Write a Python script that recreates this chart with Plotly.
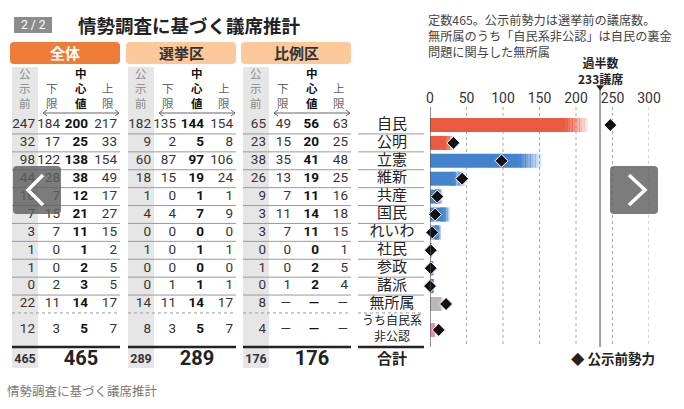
import plotly.graph_objects as go

# =========================================================
# DATA
# =========================================================

PARTIES = ["自民", "公明", "立憲", "維新", "共産", "国民", "れいわ",
           "社民", "参政", "諸派", "無所属", "うち自民系<br>非公認"]

ALL_PRE = [247, 32, 98, 44, 10, 7, 3, 1, 1, 0, 22, 12]
ALL_LOW = [184, 17, 122, 28, 7, 15, 7, 0, 0, 2, 11, 3]
ALL_MID = [200, 25, 138, 38, 12, 21, 11, 1, 2, 3, 14, 5]
ALL_HIGH = [217, 33, 154, 49, 17, 27, 15, 2, 5, 5, 17, 7]

SMD_PRE = [182, 9, 60, 18, 1, 4, 0, 1, 0, 0, 14, 8]
SMD_LOW = [135, 2, 87, 15, 0, 4, 0, 0, 0, 1, 11, 3]
SMD_MID = [144, 5, 97, 19, 1, 7, 0, 1, 0, 1, 14, 5]
SMD_HIGH = [154, 8, 106, 24, 1, 9, 0, 1, 0, 1, 17, 7]

PR_PRE = [65, 23, 38, 26, 9, 3, 3, 0, 1, 0, 8, 4]
PR_LOW = [49, 15, 35, 13, 7, 11, 7, 0, 0, 1, None, None]
PR_MID = [56, 20, 41, 19, 11, 14, 11, 0, 2, 2, None, None]
PR_HIGH = [63, 25, 48, 25, 16, 18, 15, 1, 5, 4, None, None]

SEAT_TOTALS = [465, 289, 176]
MAJORITY = 233
AXIS_TICKS = [0, 50, 100, 150, 200, 250, 300]

GROUPS = ["全体", "選挙区", "比例区"]
COLUMNS = ["公示前", "下限", "中心値", "上限"]
TOTAL_LABEL = "合計"
TITLE = "情勢調査に基づく議席推計"
PAGE = "2 / 2"
NOTE = ["定数465。公示前勢力は選挙前の議席数。",
        "無所属のうち「自民系非公認」は自民の裏金",
        "問題に関与した無所属"]
MAJORITY_LABEL = "過半数<br>233議席"
LEGEND_LABEL = "公示前勢力"
CAPTION = "情勢調査に基づく議席推計"

# =========================================================
# STYLE / GEOMETRY
# =========================================================

W, H = 684, 409
JP = "Noto Sans CJK JP"
NUM = "Roboto, sans-serif"

RED, BLUE, GREY, PINK = "#ea5a40", "#4382cd", "#b9b9b9", "#f28ca0"
PARTY_COLOR = {"自民": RED, "公明": RED, "無所属": GREY, "うち自民系<br>非公認": PINK}

ROW0, ROW_PX = 125, 17.9          # pixel centre of first row, pixels per row unit
ROW_H = [1] * 11 + [1.9, 1.46]    # last two rows are taller
GROUP_DX = [0, 116, 231]
NUM_RIGHT = [35, 60, 88, 117]
HEAD_X = [25, 52, 81, 108]
NAME_X = 392
STEPS = 14


def ry(p):
    return (p - ROW0) / ROW_PX


def px(p):
    return p / W


def py(p):
    return 1 - p / H


centers, bottoms = [], []
acc = -0.5
for h in ROW_H:
    centers.append(acc + h / 2)
    acc += h
    bottoms.append(acc)

n = len(PARTIES)
rows = centers[:n]
colors = [PARTY_COLOR.get(p, BLUE) for p in PARTIES]

fig = go.Figure()

# =========================================================
# BARS  (solid to lower bound, fading to upper bound)
# =========================================================

fig.add_trace(go.Bar(x=ALL_LOW, y=rows, base=0, orientation="h", width=0.78,
                     marker=dict(color=colors, line_width=0)))

span = [(hi - lo) / STEPS for lo, hi in zip(ALL_LOW, ALL_HIGH)]
for k in range(STEPS):
    fig.add_trace(go.Bar(
        x=span, y=rows, orientation="h", width=0.78,
        base=[lo + k * s for lo, s in zip(ALL_LOW, span)],
        marker=dict(color=colors, line_width=0, opacity=1 - (k + 0.5) / STEPS * 0.95)))

fig.add_trace(go.Scatter(
    x=ALL_PRE, y=rows, mode="markers", cliponaxis=False,
    marker=dict(symbol="diamond", size=10, color="#111", line=dict(color="white", width=1))))

fig.add_trace(go.Scatter(
    x=[MAJORITY], y=[ry(87)], mode="markers", cliponaxis=False,
    marker=dict(symbol="triangle-down", size=7, color="#222")))

# =========================================================
# TABLE
# =========================================================

groups = [(ALL_PRE, ALL_LOW, ALL_MID, ALL_HIGH),
          (SMD_PRE, SMD_LOW, SMD_MID, SMD_HIGH),
          (PR_PRE, PR_LOW, PR_MID, PR_HIGH)]

for g, cols in enumerate(groups):
    for c, vals in enumerate(cols):
        fig.add_trace(go.Scatter(
            x=[NUM_RIGHT[c] + GROUP_DX[g]] * n, y=rows, xaxis="x2", yaxis="y",
            mode="text", cliponaxis=False,
            text=["—" if v is None else str(v) for v in vals],
            textposition="middle left",
            textfont=dict(family=NUM, size=13.5,
                          color="#111" if c == 2 else "#333",
                          weight=700 if c == 2 else 400)))

fig.add_trace(go.Scatter(
    x=[NAME_X] * n, y=rows, xaxis="x2", yaxis="y", mode="text",
    text=PARTIES, textposition="middle center", cliponaxis=False,
    textfont=dict(family=JP, size=[15] * (n - 1) + [12], color="#222")))

# total row
fig.add_trace(go.Scatter(
    x=[HEAD_X[0] + dx for dx in GROUP_DX], y=[centers[-1]] * 3, xaxis="x2", yaxis="y",
    mode="text", text=[str(t) for t in SEAT_TOTALS], textposition="middle center",
    textfont=dict(family=NUM, size=12.5, color="#333", weight=700), cliponaxis=False))
fig.add_trace(go.Scatter(
    x=[HEAD_X[2] + dx for dx in GROUP_DX], y=[centers[-1]] * 3, xaxis="x2", yaxis="y",
    mode="text", text=[str(t) for t in SEAT_TOTALS], textposition="middle center",
    textfont=dict(family=NUM, size=20, color="#222", weight=700), cliponaxis=False))
fig.add_trace(go.Scatter(
    x=[NAME_X], y=[centers[-1]], xaxis="x2", yaxis="y", mode="text",
    text=[TOTAL_LABEL], textposition="middle center", cliponaxis=False,
    textfont=dict(family=JP, size=15, color="#222", weight=700)))

shapes = []
annotations = []


def label(x, y, text, size, color, anchor="center", family=JP, xref="paper", yanchor="middle"):
    annotations.append(dict(x=x, y=py(y), xref=xref, yref="paper", text=text, showarrow=False,
                            xanchor=anchor, yanchor=yanchor, align=anchor if anchor != "center" else "center",
                            borderpad=0, font=dict(family=family, size=size, color=color)))


def rounded(x0, y0, x1, y1, r):
    return (f"M {px(x0 + r)},{py(y0)} L {px(x1 - r)},{py(y0)} "
            f"Q {px(x1)},{py(y0)} {px(x1)},{py(y0 + r)} L {px(x1)},{py(y1 - r)} "
            f"Q {px(x1)},{py(y1)} {px(x1 - r)},{py(y1)} L {px(x0 + r)},{py(y1)} "
            f"Q {px(x0)},{py(y1)} {px(x0)},{py(y1 - r)} L {px(x0)},{py(y0 + r)} "
            f"Q {px(x0)},{py(y0)} {px(x0 + r)},{py(y0)} Z")


def polyline(pts):
    return "M " + " L ".join(f"{px(x)},{py(y)}" for x, y in pts)


for g, dx in enumerate(GROUP_DX):
    # grey 公示前 band
    shapes.append(dict(type="rect", xref="x2", yref="y", x0=12 + dx, x1=38 + dx,
                       y0=ry(67), y1=ry(368), fillcolor="#e6e6e6", line_width=0, layer="below"))

spans = [(12 + dx, 120 + dx) for dx in GROUP_DX] + [(358, 424)]
for i, b in enumerate(bottoms[:12]):
    if i < 10:
        style = dict(color="#9a9a9a", width=1)
    elif i == 10:
        style = dict(color="#9a9a9a", width=1, dash="dot")
    else:
        style = dict(color="#222", width=2.5)
    for x0, x1 in spans:
        shapes.append(dict(type="line", xref="x2", yref="y", x0=x0, x1=x1,
                           y0=b, y1=b, line=style))

# group header boxes + vertical column headers
for g, (name, dx) in enumerate(zip(GROUPS, GROUP_DX)):
    shapes.append(dict(type="path", xref="paper", yref="paper", path=rounded(10 + dx, 42, 120 + dx, 64, 4),
                       fillcolor="#f07c3a" if g == 0 else "#fdc99b", line_width=0))
    label(px(65 + dx), 53, f"<b>{name}</b>", 15, "white" if g == 0 else "#333")
    for c, col in enumerate(COLUMNS):
        text = "<br>".join(col)
        label(px(HEAD_X[c] + dx), 112, f"<b>{text}</b>" if c == 2 else text, 11.5,
              "#111" if c == 2 else ("#888" if c == 0 else "#666"), yanchor="bottom")
    arrow = dict(type="path", xref="paper", yref="paper", line=dict(color="#666", width=1))
    shapes.append(dict(arrow, path=polyline([(43 + dx, 113), (119 + dx, 113)])))
    shapes.append(dict(arrow, path=polyline([(47 + dx, 110), (43 + dx, 113), (47 + dx, 116)])))
    shapes.append(dict(arrow, path=polyline([(115 + dx, 110), (119 + dx, 113), (115 + dx, 116)])))

# =========================================================
# CHART FRAME
# =========================================================

ax_top, ax_bot = ry(107), bottoms[11]
for t in AXIS_TICKS[1:]:
    shapes.append(dict(type="line", xref="x", yref="y", x0=t, x1=t, y0=ax_top, y1=ax_bot,
                       line=dict(color="#a8a8a8", width=1, dash="dot"), layer="below"))
shapes.append(dict(type="line", xref="x", yref="y", x0=MAJORITY, x1=MAJORITY, y0=ry(89), y1=ax_bot,
                   line=dict(color="#a0a0a0", width=2), layer="below"))
shapes.append(dict(type="line", xref="x", yref="y", x0=0, x1=0, y0=ax_top, y1=ax_bot,
                   line=dict(color="#555", width=1.3)))
for b in bottoms[:11]:
    shapes.append(dict(type="line", xref="x", yref="y", x0=-5, x1=0, y0=b, y1=b,
                       line=dict(color="#555", width=1)))

label(MAJORITY, 70, f"<b>{MAJORITY_LABEL}</b>", 12, "#222", xref="x")

label(px(427), 36, "<br>".join(NOTE), 12.2, "#444", anchor="left")

label(px(570), 358, f"◆ <b>{LEGEND_LABEL}</b>", 13.5, "#222", anchor="left")

# page badge + title + caption
shapes.append(dict(type="rect", xref="paper", yref="paper", x0=px(14), x1=px(52), y0=py(17), y1=py(33),
                   fillcolor="#8c8c8c", line_width=0))
label(px(33), 25, PAGE, 12, "white", family=NUM)
label(px(77), 25, f"<b>{TITLE}</b>", 18.5, "#222", anchor="left")
label(px(6), 390, CAPTION, 12.5, "#777", anchor="left")

# carousel arrows
for x0, chev in [(13, [(43, 175), (28, 190), (43, 205)]), (610, [(629, 175), (645, 190), (629, 205)])]:
    shapes.append(dict(type="path", xref="paper", yref="paper", path=rounded(x0, 166, x0 + 48, 214, 4),
                       fillcolor="rgba(95,95,95,0.82)", line_width=0))
    shapes.append(dict(type="path", xref="paper", yref="paper", path=polyline(chev),
                       line=dict(color="white", width=3.5)))

fig.update_layout(
    width=W, height=H,
    margin=dict(l=0, r=0, t=0, b=0, pad=0, autoexpand=False),
    paper_bgcolor="white", plot_bgcolor="rgba(0,0,0,0)",
    barmode="overlay", showlegend=False, hovermode=False,
    shapes=shapes, annotations=annotations,
    xaxis=dict(domain=[430 / W, 649 / W], range=[0, 300], side="top", anchor="free",
               position=py(106), tickvals=AXIS_TICKS, showgrid=False, zeroline=False,
               showline=False, ticks="", automargin=False,
               tickfont=dict(family=NUM, size=14, color="#333")),
    xaxis2=dict(domain=[0, 424 / W], range=[0, 424], visible=False, anchor="y"),
    yaxis=dict(domain=[0, 1], range=[ry(H), ry(0)], visible=False),
)

fig.write_html("out.html", config={"displayModeBar": False},
               post_script="document.body.style.margin='0';")
